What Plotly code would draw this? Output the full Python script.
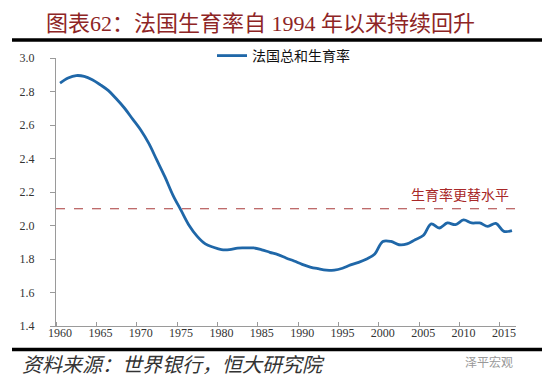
import plotly.graph_objects as go

years = list(range(1960, 2017))
tfr = [2.85, 2.88, 2.895, 2.89, 2.87, 2.84, 2.805, 2.755, 2.70, 2.635,
       2.57, 2.49, 2.39, 2.29, 2.18, 2.09, 2.00, 1.935, 1.89, 1.87,
       1.856, 1.856, 1.865, 1.866, 1.866, 1.855, 1.84, 1.826, 1.806, 1.788,
       1.768, 1.752, 1.742, 1.734, 1.733, 1.745, 1.765, 1.78, 1.80, 1.83,
       1.905, 1.905, 1.885, 1.89, 1.915, 1.94, 2.01, 1.985, 2.015, 2.005,
       2.033, 2.015, 2.015, 1.995, 2.013, 1.965, 1.969]
replacement_level = 2.1
x_tick_labels = list(range(1960, 2016, 5))
y_tick_vals = [1.4, 1.6, 1.8, 2.0, 2.2, 2.4, 2.6, 2.8, 3.0]

series_name = "法国总和生育率"
title_text = "图表62：法国生育率自 1994 年以来持续回升"
source_text = "资料来源：世界银行，恒大研究院"
ref_label = "生育率更替水平"
brand = "泽平宏观"

W, H = 550, 378
L, R, T, B = 48, 508, 50, 318

def px_x(p):
    return (p - L) / (R - L)

def px_y(p):
    return (B - p) / (B - T)

serif = "Liberation Serif, Noto Sans CJK SC, serif"
cjk = "Liberation Serif, Noto Sans CJK SC, sans-serif"

fig = go.Figure()
fig.add_trace(go.Scatter(
    x=years, y=tfr, mode="lines", name=series_name,
    line=dict(color="#1F67A8", width=2.8, shape="spline", smoothing=1.0),
))
fig.add_trace(go.Scatter(
    x=[1959.5, 2016.5], y=[replacement_level, replacement_level], mode="lines",
    line=dict(color="#A83A3A", width=1, dash="dash"), showlegend=False,
    hoverinfo="skip",
))

shapes = [
    dict(type="line", xref="paper", yref="paper", x0=px_x(4), x1=px_x(538),
         y0=px_y(32), y1=px_y(32), line=dict(color="#000", width=3.5)),
    dict(type="line", xref="paper", yref="paper", x0=px_x(4), x1=px_x(538),
         y0=px_y(341.5), y1=px_y(341.5), line=dict(color="#000", width=3.5)),
]

annotations = [
    dict(text=title_text, xref="paper", yref="paper", x=px_x(252), y=px_y(16),
         xanchor="center", yanchor="middle", showarrow=False,
         font=dict(family=cjk, size=22, color="#8E2525")),
    dict(text=ref_label, xref="x", yref="paper", x=2009.5, y=px_y(187),
         xanchor="center", yanchor="middle", showarrow=False,
         font=dict(family=cjk, size=14, color="#A82828")),
    dict(text="<i>" + source_text + "</i>", xref="paper", yref="paper",
         x=px_x(12), y=px_y(357), xanchor="left", yanchor="middle",
         showarrow=False, font=dict(family=cjk, size=20, color="#333")),
    dict(text=brand, xref="paper", yref="paper", x=px_x(507), y=px_y(354),
         xanchor="right", yanchor="middle", showarrow=False,
         font=dict(family=cjk, size=12, color="#999")),
]

fig.update_layout(
    width=W, height=H, autosize=False,
    margin=dict(l=L, r=W - R, t=T, b=H - B, pad=0),
    plot_bgcolor="white", paper_bgcolor="white",
    showlegend=True,
    legend=dict(x=px_x(204), y=px_y(48), xanchor="left", yanchor="middle",
                orientation="h", font=dict(family=cjk, size=14, color="#111"),
                bgcolor="rgba(0,0,0,0)", itemwidth=30),
    shapes=shapes, annotations=annotations,
    xaxis=dict(range=[1959.5, 2016.5], tickvals=x_tick_labels,
               ticktext=[str(v) for v in x_tick_labels],
               showgrid=False, zeroline=False, showline=True,
               linecolor="#9a9a9a", linewidth=1, ticks="",
               ticklabelstandoff=-4,
               tickfont=dict(family=serif, size=12, color="#333"),
               minor=dict(tick0=1959.5, dtick=5, ticks="inside", ticklen=4,
                          tickcolor="#9a9a9a", showgrid=False)),
    yaxis=dict(range=[1.4, 3.0], tickvals=y_tick_vals,
               ticktext=[f"{v:.1f}" for v in y_tick_vals],
               showgrid=False, zeroline=False, showline=True,
               linecolor="#9a9a9a", linewidth=1, ticks="outside", ticklen=5,
               tickcolor="#9a9a9a", ticklabelstandoff=13,
               tickfont=dict(family=serif, size=12, color="#333")),
)

fig.write_html("out.html")
